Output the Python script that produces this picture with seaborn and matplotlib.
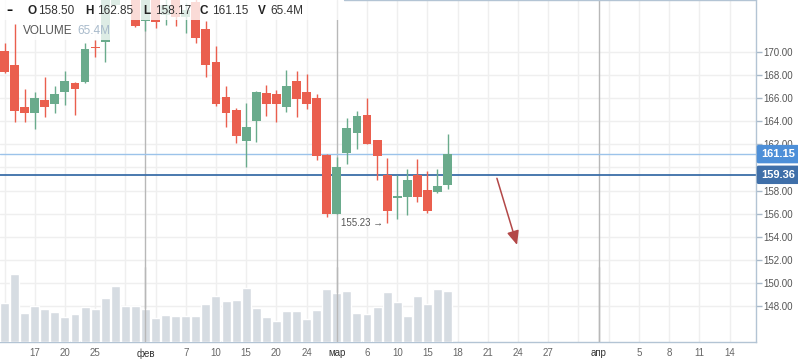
import numpy as np
import pandas as pd
import matplotlib
matplotlib.use("Agg")
import matplotlib.pyplot as plt
import seaborn as sns
from matplotlib.patches import Rectangle
import matplotlib.transforms as mtransforms

# daily candles, one trading day per slot (jan 14 .. mar 15)
opens = [170.06, 168.85, 165.22, 164.73, 165.83, 165.51, 166.54, 167.29, 167.41, 170.41,
         170.86, 174.03, 177.0, 175.5, 172.65, 174.9, 173.17, 174.6, 173.03, 174.3,
         171.96, 169.11, 166.08, 164.96, 162.31, 164.04, 166.43, 166.34, 165.25, 167.47,
         166.52, 166.0, 161.07, 155.97, 161.27, 163.0, 164.53, 162.37, 159.37, 157.38,
         157.47, 159.37, 158.05, 157.9, 158.50]
highs = [170.73, 172.39, 166.78, 166.52, 167.81, 167.04, 168.33, 167.35, 170.75, 171.01,
         175.5, 176.5, 177.6, 176.0, 175.8, 175.3, 174.6, 175.0, 174.2, 174.8,
         172.65, 170.49, 167.04, 165.11, 165.59, 166.6, 167.12, 166.69, 168.42, 168.33,
         168.07, 166.34, 161.16, 160.92, 164.27, 164.87, 166.0, 162.4, 160.81, 159.37,
         159.86, 160.73, 159.69, 159.89, 162.85]
lows = [168.13, 163.95, 163.95, 163.34, 164.38, 164.73, 165.42, 164.55, 167.32, 169.57,
        169.14, 173.8, 175.6, 172.11, 171.79, 172.02, 172.31, 172.22, 171.62, 170.78,
        167.84, 165.31, 163.52, 162.08, 160.06, 162.22, 164.47, 163.95, 164.81, 164.38,
        165.07, 160.67, 155.74, 155.97, 160.32, 161.62, 162.0, 158.94, 155.23, 155.57,
        155.91, 157.04, 156.08, 157.81, 158.17]
closes = [168.27, 164.90, 164.73, 166.0, 165.25, 166.34, 167.47, 166.80, 170.23, 170.29,
          174.8, 176.0, 176.0, 172.22, 175.2, 172.59, 174.04, 173.03, 173.60, 171.21,
          168.85, 165.48, 164.73, 162.74, 163.49, 166.52, 165.51, 165.51, 167.04, 165.94,
          165.51, 161.01, 155.97, 160.06, 163.41, 164.44, 162.05, 161.01, 156.26, 157.55,
          158.91, 157.47, 156.26, 158.39, 161.15]
volumes = [50.1, 87.1, 37.4, 46.3, 42.5, 38.6, 32.3, 36.1, 45.0, 42.5,
           56.5, 71.8, 46.3, 46.3, 42.5, 31.0, 34.8, 33.5, 33.5, 33.5,
           48.8, 59.0, 52.7, 53.9, 69.2, 43.7, 32.3, 27.2, 39.9, 39.9,
           29.7, 41.2, 68.0, 62.9, 65.4, 37.4, 36.1, 45.0, 64.1, 51.4,
           33.5, 59.0, 48.8, 68.0, 65.4]

# x axis: past part in trading days, future part in calendar days
tick_slots = [3, 6, 9, 14, 18, 21, 24, 27, 30, 33, 36, 39, 42, 45, 48, 51, 54, 59, 63, 66, 69, 72]
tick_labels = ["17", "20", "25", "фев", "7", "10", "15", "20", "24", "мар", "6", "10", "15",
               "18", "21", "24", "27", "апр", "5", "8", "11", "14"]
grid_slots = [0, 3, 6, 9, 12, 15, 18, 21, 24, 27, 30, 36, 39, 42, 45, 48, 51, 54, 57, 60,
              63, 66, 69, 72]
month_slots = [14, 33, 59]
price_ticks = [148, 150, 152, 154, 156, 158, 160, 162, 164, 166, 168, 170]

last_price = 161.15
ref_price = 159.36
arrow_from = (48.9, 159.06)
arrow_to = (50.9, 153.3)

UP = "#6aab8c"
DOWN = "#ea5f4e"

df = pd.DataFrame({"open": opens, "high": highs, "low": lows, "close": closes, "volume": volumes})
df["slot"] = np.arange(len(df))

sns.set_style("white")
plt.rcParams["font.family"] = ["Liberation Sans", "DejaVu Sans"]

fig = plt.figure(figsize=(7.98, 3.63), dpi=100)
rect = [0, 21 / 363, 756 / 798, 342 / 363]
ax = fig.add_axes(rect)
vax = fig.add_axes(rect, facecolor="none")

xlim = (-0.447, 74.63)
ax.set_xlim(xlim)
ax.set_ylim(144.91, 174.47)

# grid
for s in grid_slots:
    ax.axvline(s, color="#efefef", lw=1, zorder=0)
for p in price_ticks:
    ax.axhline(p, color="#efefef", lw=1, zorder=0)
for s in month_slots:
    ax.axvline(s, color="#b8b8b8", lw=1, zorder=1)

# candles
up = df["close"] >= df["open"]
colors = np.where(up, UP, DOWN)
ax.vlines(df["slot"], df["low"], df["high"], colors=colors, lw=1, zorder=3)
ax.bar(df["slot"], (df["close"] - df["open"]).abs(), bottom=df[["open", "close"]].min(axis=1),
       width=0.88, color=colors, zorder=4, linewidth=0)

# price lines
ax.axhline(last_price, color="#9cc3ea", lw=1, zorder=2)
ax.axhline(ref_price, color="#3b6ea8", lw=1.3, zorder=2)

trans = mtransforms.blended_transform_factory(ax.transAxes, ax.transData)
ax.text(1.0066, last_price, f"{last_price:.2f}", transform=trans, ha="left", va="center",
        fontsize=8, fontweight="bold", color="white", zorder=6, clip_on=False,
        bbox=dict(boxstyle="round,pad=0.38,rounding_size=0.15", fc="#4d8fd8", ec="none"))
ax.text(1.0066, ref_price, f"{ref_price:.2f}", transform=trans, ha="left", va="center",
        fontsize=8, fontweight="bold", color="white", zorder=6, clip_on=False,
        bbox=dict(boxstyle="round,pad=0.38,rounding_size=0.15", fc="#3f6fa9", ec="none"))

# low marker
low_i = int(df["low"].idxmin())
ax.text(low_i - 0.45, df["low"][low_i], f"{df['low'][low_i]:.2f} →", ha="right", va="center",
        fontsize=7, color="#555555", zorder=5)

# drawn arrow
ax.annotate("", xy=arrow_to, xytext=arrow_from,
            arrowprops=dict(arrowstyle="-|>,head_length=0.6,head_width=0.26", color="#b34848",
                            lw=1.1, shrinkA=0, shrinkB=0, mutation_scale=14), zorder=5)

# axes styling; 160.00 sits fully under the price badge, so it is left blank
ax.yaxis.tick_right()
ax.set_yticks(price_ticks)
ax.set_yticklabels(["" if p == 160 else f"{p:.2f}" for p in price_ticks])
ax.tick_params(axis="y", length=4, width=1, color="#a9b9c9", labelsize=7, labelcolor="#555555", pad=1)
ax.set_xticks(tick_slots)
ax.set_xticklabels(tick_labels)
ax.tick_params(axis="x", length=0, labelsize=7, pad=4.5)
for lab in ax.get_xticklabels():
    lab.set_color("#333333" if lab.get_text() in ("фев", "мар", "апр") else "#666666")
for side in ["left", "top"]:
    ax.spines[side].set_visible(False)
for side in ["right", "bottom"]:
    ax.spines[side].set_color("#b3c4d4")
    ax.spines[side].set_linewidth(1)
ax.plot([344 / 756, 1], [1, 1], transform=ax.transAxes, color="#b3c4d4", lw=1, clip_on=False)

# volume
sns.barplot(data=df, x="slot", y="volume", native_scale=True, width=0.89, color="#d6dce2",
            saturation=1, errorbar=None, ax=vax, zorder=2)
vax.set_xlim(xlim)
vax.set_ylim(0, 436)
for s in month_slots:
    vax.axvline(s, ymax=0.22, color="#b8b8b8", lw=1, zorder=5)
vax.axis("off")

# header legend
fig.add_artist(Rectangle((0, 1 - 20 / 363), 344 / 798, 20 / 363, transform=fig.transFigure,
                         fc="white", ec="none", alpha=0.78, zorder=5))
fig.add_artist(Rectangle((20 / 798, 1 - 40 / 363), 93 / 798, 20 / 363, transform=fig.transFigure,
                         fc="white", ec="none", alpha=0.78, zorder=5))

last = df.iloc[-1]
y1 = 1 - 10.7 / 363
y2 = 1 - 31 / 363
fig.text(6 / 798, y1, "–", ha="left", va="center", fontsize=9, fontweight="bold",
         family="DejaVu Sans", color="#111111", zorder=6)
parts = [(27, "O", True), (38, f"{last['open']:.2f}", False),
         (85, "H", True), (97, f"{last['high']:.2f}", False),
         (143, "L", True), (155, f"{last['low']:.2f}", False),
         (200, "C", True), (212, f"{last['close']:.2f}", False),
         (258, "V", True), (270, f"{last['volume']:.1f}M", False)]
for px, txt, bold in parts:
    fig.text(px / 798, y1, txt, ha="left", va="center", fontsize=8.5,
             fontweight="bold" if bold else "normal", color="#222222" if bold else "#333333", zorder=6)
fig.text(23 / 798, y2, "VOLUME", ha="left", va="center", fontsize=8.5, color="#555555", zorder=6)
fig.text(77 / 798, y2, f"{last['volume']:.1f}M", ha="left", va="center", fontsize=8.5,
         color="#a8bacb", zorder=6)

fig.savefig("out.png", dpi=100)
